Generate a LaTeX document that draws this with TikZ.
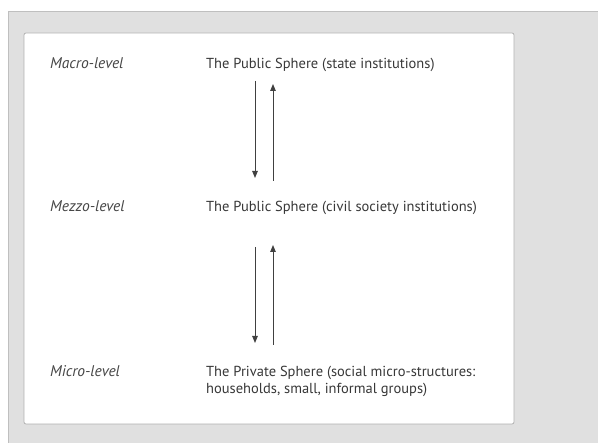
\documentclass[tikz,border=0pt]{standalone}
\usepackage{fontspec}
\setmainfont{PT Sans}
\usetikzlibrary{arrows.meta}
\begin{document}
\begin{tikzpicture}[x=1pt,y=-1pt,
  lvl/.style={anchor=base west,inner sep=0pt,font=\fontsize{15.5}{17}\selectfont\itshape,text=black!72},
  sph/.style={anchor=base west,inner sep=0pt,font=\fontsize{14.5}{17}\selectfont,text=black!78,align=left},
  flow/.style={draw=black!75,line width=0.9pt,-{Triangle[length=7pt,width=5.5pt]}}]
  \useasboundingbox (0,0) rectangle (598,443);
  % outer panel
  \fill[white] (0,0) rectangle (598,443);
  \filldraw[fill=black!12,draw=black!25,line width=0.8pt] (8,11) rectangle (600,445);
  % inner card
  \filldraw[fill=white,draw=black!30,line width=0.8pt,rounded corners=2pt] (24,33) rectangle (514,424);
  % levels
  \node[lvl] (macro) at (50,69) {Macro-level};
  \node[lvl] (mezzo) at (50,212) {Mezzo-level};
  \node[lvl] (micro) at (50,377) {Micro-level};
  % spheres
  \node[sph] (state) at (206,69) {The Public Sphere (state institutions)};
  \node[sph] (civil) at (206,212) {The Public Sphere (civil society institutions)};
  \node[sph] (priv) at (206,377) {The Private Sphere (social micro-structures:};
  \node[sph] (priv2) at (206,394) {households, small, informal groups)};
  % connectors
  \coordinate (a1) at (255,81); \coordinate (a2) at (255,178);
  \coordinate (b1) at (273,181); \coordinate (b2) at (273,84);
  \coordinate (c1) at (255,247); \coordinate (c2) at (255,343);
  \coordinate (d1) at (273,345); \coordinate (d2) at (273,245);
  \draw[flow] (a1) -- (a2);
  \draw[flow] (b1) -- (b2);
  \draw[flow] (c1) -- (c2);
  \draw[flow] (d1) -- (d2);
\end{tikzpicture}
\end{document}
